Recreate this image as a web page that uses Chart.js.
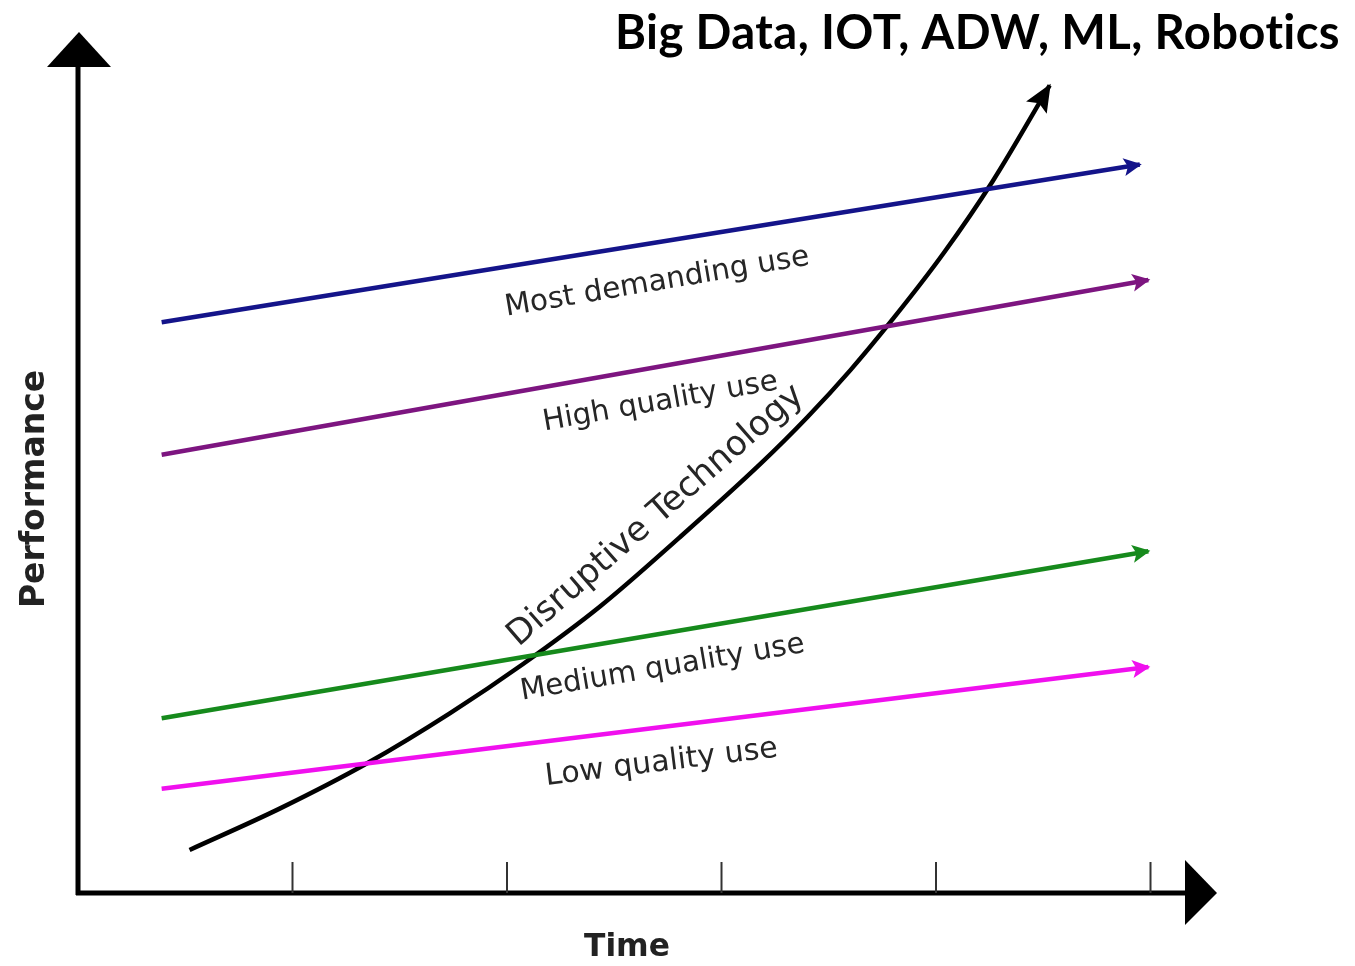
<!DOCTYPE html>
<html><head><meta charset="utf-8">
<script src="https://cdn.jsdelivr.net/npm/chart.js@4.4.1/dist/chart.umd.min.js"></script>
<style>html,body{margin:0;padding:0;background:#fff;overflow:hidden}#wrap{width:1355px;height:966px}</style>
</head><body><div id="wrap"><canvas id="c" width="1355" height="966"></canvas></div>
<script>
// ---- data (time units on x, performance units on y) ----
const timeTicks = [2, 4, 6, 8, 10];
const mostDemandingX = [0.78, 9.90];
const mostDemandingY = [66.3, 84.6];
const highQualityX = [0.78, 9.98];
const highQualityY = [50.9, 71.2];
const mediumQualityX = [0.78, 9.98];
const mediumQualityY = [20.3, 39.7];
const lowQualityX = [0.78, 9.98];
const lowQualityY = [12.1, 26.25];
const disruptiveX = [1.04, 1.88, 2.70, 3.47, 4.15, 4.87, 5.61, 6.36, 6.80, 7.20, 7.60, 8.07, 8.53, 9.06];
const disruptiveY = [5.0, 9.8, 15.1, 20.9, 26.6, 33.3, 41.3, 49.8, 55.25, 60.7, 66.7, 74.3, 82.7, 93.8];
const seriesNames = ["Most demanding use", "High quality use", "Medium quality use", "Low quality use", "Disruptive Technology"];
const titleText = "Big Data, IOT, ADW, ML, Robotics";
const xAxisTitle = "Time";
const yAxisTitle = "Performance";

function pts(xs, ys) { return xs.map((x, i) => ({ x: x, y: ys[i] })); }

// label placement (data coords of text centre, angle, target length px)
const labelLayout = [
  { text: seriesNames[0], x: 5.40, y: 70.9, angle: -9.6, len: 308 },
  { text: seriesNames[1], x: 5.43, y: 57.0, angle: -10.0, len: 238 },
  { text: seriesNames[2], x: 5.45, y: 26.1, angle: -9.6, len: 288 },
  { text: seriesNames[3], x: 5.44, y: 15.1, angle: -7.0, len: 234 },
  { text: seriesNames[4], x: 5.39, y: 43.8, angle: -41.0, len: 380 }
];

function fitFont(ctx, text, weight, family, len) {
  ctx.font = weight + " 40px " + family;
  const w = ctx.measureText(text).width;
  return 40 * len / w;
}

const overlay = {
  id: 'overlay',
  beforeDatasetsDraw(chart) {
    const ctx = chart.ctx, a = chart.chartArea, xs = chart.scales.x;
    ctx.save();
    ctx.fillStyle = '#000'; ctx.strokeStyle = '#000';
    // y axis
    ctx.lineWidth = 5;
    ctx.beginPath(); ctx.moveTo(a.left, a.bottom + 2); ctx.lineTo(a.left, a.top + 35); ctx.stroke();
    ctx.beginPath(); ctx.moveTo(a.left + 1, a.top); ctx.lineTo(a.left + 33, a.top + 35); ctx.lineTo(a.left - 31, a.top + 35); ctx.closePath(); ctx.fill();
    // x axis
    ctx.beginPath(); ctx.moveTo(a.left - 2, a.bottom); ctx.lineTo(a.right - 32, a.bottom); ctx.stroke();
    ctx.beginPath(); ctx.moveTo(a.right, a.bottom); ctx.lineTo(a.right - 32, a.bottom - 33); ctx.lineTo(a.right - 32, a.bottom + 32); ctx.closePath(); ctx.fill();
    // ticks
    ctx.lineWidth = 2; ctx.strokeStyle = '#333';
    timeTicks.forEach(t => {
      const px = xs.getPixelForValue(t);
      ctx.beginPath(); ctx.moveTo(px, a.bottom); ctx.lineTo(px, a.bottom - 31); ctx.stroke();
    });
    ctx.restore();
  },
  afterDatasetsDraw(chart) {
    const ctx = chart.ctx, a = chart.chartArea, xs = chart.scales.x, ys = chart.scales.y;
    ctx.save();
    // arrowheads
    chart.data.datasets.forEach((ds, i) => {
      const meta = chart.getDatasetMeta(i);
      const n = meta.data.length;
      const p1 = meta.data[n - 1], p0 = meta.data[n - 2];
      let dx = p1.x - p0.x, dy = p1.y - p0.y; const d = Math.hypot(dx, dy); dx /= d; dy /= d;
      const L = ds.arrowLen, W = ds.arrowHalf, notch = ds.arrowNotch;
      ctx.fillStyle = ds.borderColor;
      ctx.beginPath();
      ctx.moveTo(p1.x + 2 * dx, p1.y + 2 * dy);
      ctx.lineTo(p1.x - L * dx - W * dy, p1.y - L * dy + W * dx);
      ctx.lineTo(p1.x - notch * L * dx, p1.y - notch * L * dy);
      ctx.lineTo(p1.x - L * dx + W * dy, p1.y - L * dy - W * dx);
      ctx.closePath(); ctx.fill();
    });
    // rotated series labels
    const fam = '"DejaVu Sans", sans-serif';
    ctx.fillStyle = '#262626'; ctx.textAlign = 'center'; ctx.textBaseline = 'middle';
    labelLayout.forEach(l => {
      const s = fitFont(ctx, l.text, 'normal', fam, l.len);
      ctx.save();
      ctx.translate(xs.getPixelForValue(l.x), ys.getPixelForValue(l.y));
      ctx.rotate(l.angle * Math.PI / 180);
      ctx.font = 'normal ' + s.toFixed(1) + 'px ' + fam;
      ctx.fillText(l.text, 0, 0);
      ctx.restore();
    });
    // axis titles
    ctx.fillStyle = '#222';
    let s = fitFont(ctx, xAxisTitle, 'bold', fam, 86);
    ctx.font = 'bold ' + s.toFixed(1) + 'px ' + fam;
    ctx.fillText(xAxisTitle, 627, 948);
    s = fitFont(ctx, yAxisTitle, 'bold', fam, 238);
    ctx.save(); ctx.translate(35, 489); ctx.rotate(-Math.PI / 2);
    ctx.font = 'bold ' + s.toFixed(1) + 'px ' + fam;
    ctx.fillText(yAxisTitle, 0, 0);
    ctx.restore();
    // title (condensed bold)
    const tf = 'Lato, "Open Sans", sans-serif';
    ctx.font = 'bold 48px ' + tf;
    try { ctx.letterSpacing = '0.4px'; } catch (e) {}
    const tw = ctx.measureText(titleText).width;
    ctx.save();
    ctx.translate(615, 49);
    ctx.scale(725 / tw, 1);
    ctx.fillStyle = '#000'; ctx.textAlign = 'left'; ctx.textBaseline = 'alphabetic';
    ctx.fillText(titleText, 0, 0);
    ctx.restore();
    try { ctx.letterSpacing = '0px'; } catch (e) {}
    ctx.restore();
  }
};

const common = { showLine: true, pointRadius: 0, borderWidth: 4.5, fill: false, arrowLen: 16, arrowHalf: 9, arrowNotch: 0.75 };
new Chart(document.getElementById('c'), {
  type: 'scatter',
  data: {
    datasets: [
      Object.assign({}, common, { label: seriesNames[0], data: pts(mostDemandingX, mostDemandingY), borderColor: '#14148a' }),
      Object.assign({}, common, { label: seriesNames[1], data: pts(highQualityX, highQualityY), borderColor: '#7d1580' }),
      Object.assign({}, common, { label: seriesNames[2], data: pts(mediumQualityX, mediumQualityY), borderColor: '#168a1c' }),
      Object.assign({}, common, { label: seriesNames[3], data: pts(lowQualityX, lowQualityY), borderColor: '#f010ee' }),
      Object.assign({}, common, { label: seriesNames[4], data: pts(disruptiveX, disruptiveY), borderColor: '#000000', cubicInterpolationMode: 'monotone', arrowLen: 26, arrowHalf: 12, arrowNotch: 0.8 })
    ]
  },
  options: {
    responsive: false, animation: false,
    layout: { padding: { left: 78, right: 138, top: 32, bottom: 73 } },
    scales: {
      x: { type: 'linear', min: 0, max: 10.62, display: false },
      y: { type: 'linear', min: 0, max: 100, display: false }
    },
    plugins: { legend: { display: false }, tooltip: { enabled: false }, title: { display: false } }
  },
  plugins: [overlay]
});
</script></body></html>
